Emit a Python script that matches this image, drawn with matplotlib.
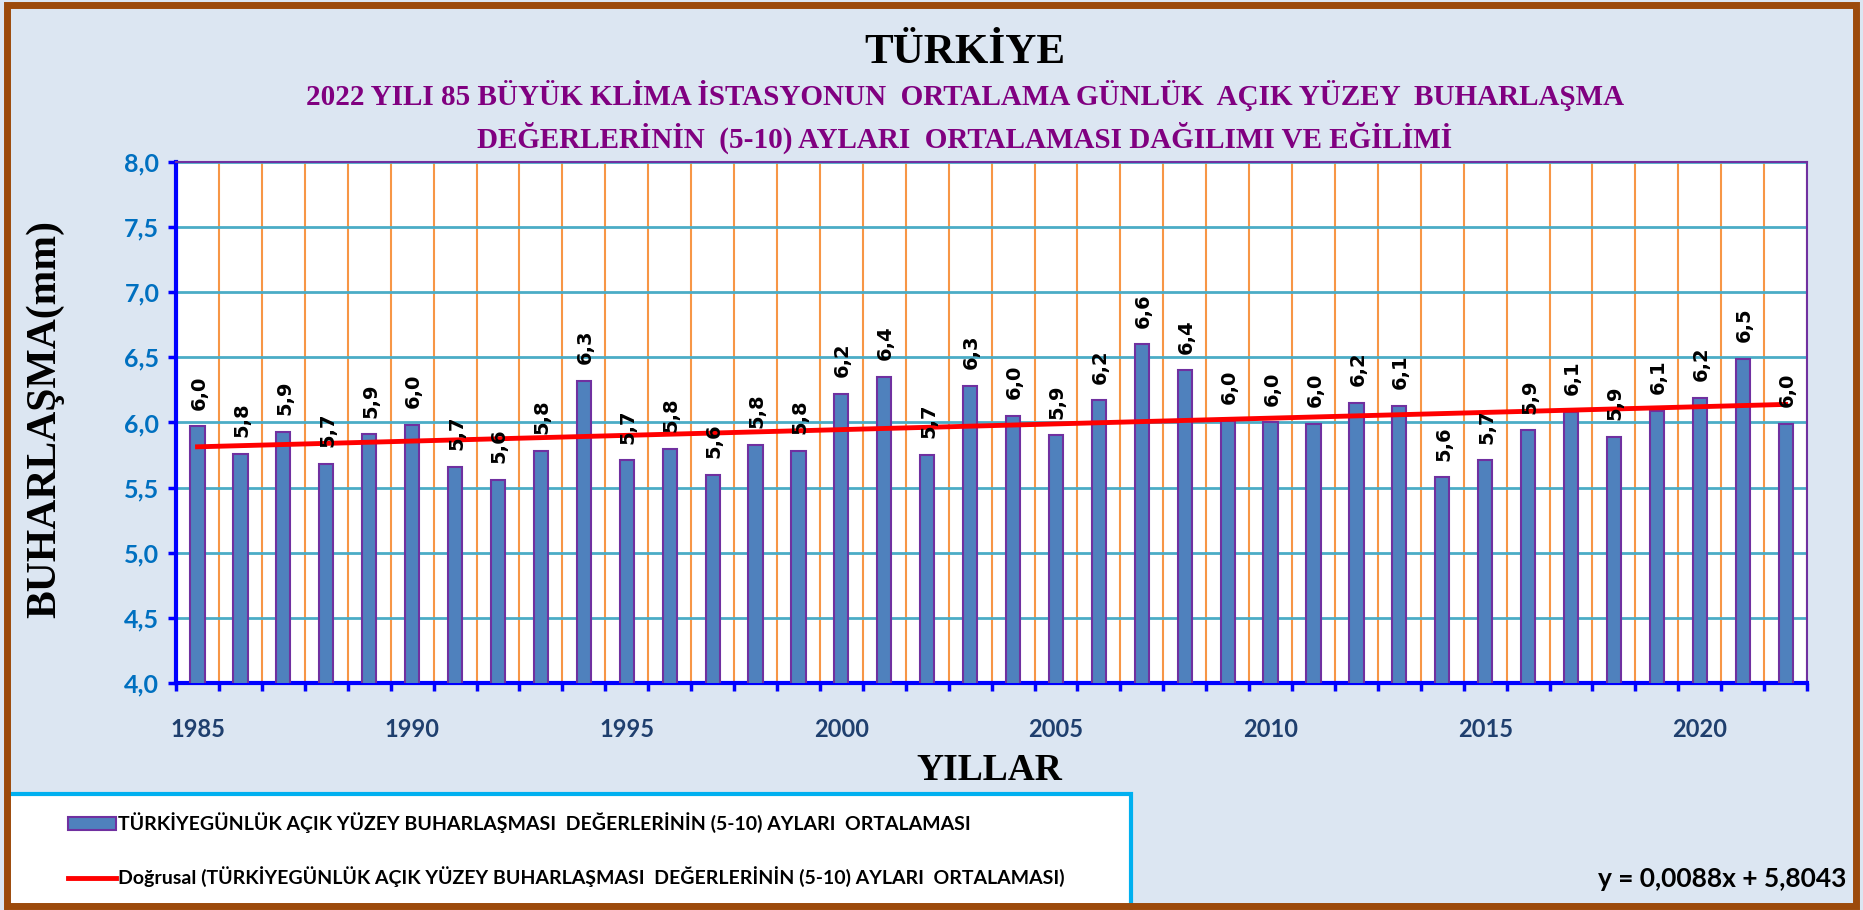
import numpy as np
import matplotlib
matplotlib.use("Agg")
import matplotlib.pyplot as plt
from matplotlib.patches import Rectangle, Patch
from matplotlib.lines import Line2D
from matplotlib.ticker import MultipleLocator, FuncFormatter

# data
years = list(range(1985, 2023))
values = [5.97, 5.76, 5.93, 5.68, 5.91, 5.98, 5.66, 5.56, 5.78, 6.32,
          5.71, 5.80, 5.60, 5.83, 5.78, 6.22, 6.35, 5.75, 6.28, 6.05,
          5.90, 6.17, 6.60, 6.40, 6.01, 6.00, 5.99, 6.15, 6.13, 5.58,
          5.71, 5.94, 6.08, 5.89, 6.09, 6.19, 6.49, 5.99]
labels = ["6,0", "5,8", "5,9", "5,7", "5,9", "6,0", "5,7", "5,6", "5,8", "6,3",
          "5,7", "5,8", "5,6", "5,8", "5,8", "6,2", "6,4", "5,7", "6,3", "6,0",
          "5,9", "6,2", "6,6", "6,4", "6,0", "6,0", "6,0", "6,2", "6,1", "5,6",
          "5,7", "5,9", "6,1", "5,9", "6,1", "6,2", "6,5", "6,0"]
trend_slope = 0.0088
trend_intercept = 5.8043

title1 = "TÜRKİYE"
title2 = "2022 YILI 85 BÜYÜK KLİMA İSTASYONUN  ORTALAMA GÜNLÜK  AÇIK YÜZEY  BUHARLAŞMA"
title3 = "DEĞERLERİNİN  (5-10) AYLARI  ORTALAMASI DAĞILIMI VE EĞİLİMİ"
series_name = "TÜRKİYEGÜNLÜK AÇIK YÜZEY BUHARLAŞMASI  DEĞERLERİNİN (5-10) AYLARI  ORTALAMASI"
trend_name = "Doğrusal (" + series_name + ")"
equation = "y = 0,0088x + 5,8043"

bg = "#DCE6F2"
serif = ["Liberation Serif", "DejaVu Serif"]
sans = ["Lato", "DejaVu Sans"]

fig = plt.figure(figsize=(18.63, 9.10), dpi=100, facecolor=bg)

# legend box (white, cyan edge) sits under the frame
fig.patches.append(Rectangle((0.004, -0.01), 0.603, 0.137, transform=fig.transFigure,
                             facecolor="white", edgecolor="#00B0F0", linewidth=3, zorder=1))
# outer brown frame
fig.patches.append(Rectangle((0.004, 0.004), 0.992, 0.990, transform=fig.transFigure,
                             fill=False, edgecolor="#9C4A0B", linewidth=5, zorder=2))

ax = fig.add_axes([0.0945, 0.2495, 0.8755, 0.5725])
ax.set_facecolor("white")

x = np.array(years)
ax.bar(x, values, width=0.33, color="#4F81BD", edgecolor="#7030A0", linewidth=1.5, zorder=3)

idx = np.arange(1, len(years) + 1)
trend = trend_slope * idx + trend_intercept
ax.plot(x, trend, color="#FF0000", linewidth=3.5, zorder=4)

for xi, v, lab in zip(x, values, labels):
    ax.annotate(lab, (xi, v), xytext=(1, 12), textcoords="offset points",
                rotation=90, ha="center", va="bottom", fontsize=14,
                fontweight="bold", family="DejaVu Sans", color="black", zorder=5)

ax.set_xlim(1984.5, 2022.5)
ax.set_ylim(4.0, 8.0)

ax.yaxis.set_major_locator(MultipleLocator(0.5))
ax.yaxis.set_major_formatter(FuncFormatter(lambda v, p: ("%.1f" % v).replace(".", ",")))
ax.set_xticks([1985, 1990, 1995, 2000, 2005, 2010, 2015, 2020])
ax.set_xticks(np.arange(1984.5, 2023, 1.0), minor=True)

ax.grid(axis="y", which="major", color="#4BACC6", linewidth=2, zorder=1)
ax.grid(axis="x", which="minor", color="#F79646", linewidth=1.5, zorder=1)
ax.set_axisbelow(True)

ax.tick_params(axis="y", which="major", direction="out", length=6, width=2.5,
               color="#0000FF", labelcolor="#0070C0", labelsize=18, pad=6)
ax.tick_params(axis="x", which="major", length=0, labelcolor="#1F3F6E",
               labelsize=17, pad=25)
ax.tick_params(axis="x", which="minor", direction="out", length=6, width=2.5,
               color="#0000FF")
for t in ax.get_yticklabels() + ax.get_xticklabels():
    t.set_fontweight("bold")
    t.set_family(sans)

for side in ["left", "bottom"]:
    ax.spines[side].set_color("#0000FF")
    ax.spines[side].set_linewidth(3)
for side in ["top", "right"]:
    ax.spines[side].set_color("#7030A0")
    ax.spines[side].set_linewidth(1.5)

# titles
fig.text(0.518, 0.942, title1, ha="center", va="center", fontsize=31,
         fontweight="bold", family=serif, color="black")
fig.text(0.518, 0.895, title2, ha="center", va="center", fontsize=21,
         fontweight="bold", family=serif, color="#800080")
fig.text(0.518, 0.849, title3, ha="center", va="center", fontsize=21,
         fontweight="bold", family=serif, color="#800080")

fig.text(0.024, 0.54, "BUHARLAŞMA(mm)", rotation=90, ha="center", va="center",
         fontsize=30, fontweight="bold", family=serif, color="black")
fig.text(0.531, 0.153, "YILLAR", ha="center", va="center", fontsize=27,
         fontweight="bold", family=serif, color="black")

handles = [Patch(facecolor="#4F81BD", edgecolor="#7030A0", linewidth=1.5),
           Line2D([], [], color="#FF0000", linewidth=3.5)]
leg = fig.legend(handles, [series_name, trend_name], loc="center left",
                 bbox_to_anchor=(0.027, 0.066), frameon=False,
                 prop={"family": sans, "weight": "bold", "size": 14},
                 handlelength=2.5, handleheight=0.7, handletextpad=0.1,
                 labelspacing=1.7)

fig.text(0.991, 0.034, equation, ha="right", va="center", fontsize=19,
         fontweight="bold", family=sans, color="black")

fig.savefig("out.png", dpi=100, facecolor=bg)
